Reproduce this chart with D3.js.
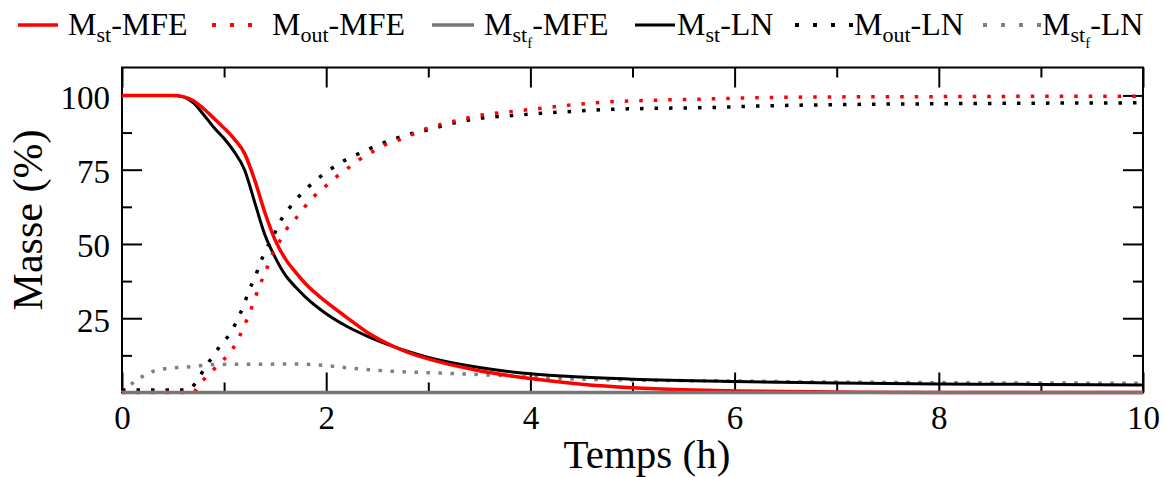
<!DOCTYPE html>
<html><head><meta charset="utf-8">
<script src="https://cdn.jsdelivr.net/npm/d3@7"></script>
<style>html,body{margin:0;padding:0;background:#fff}</style>
</head><body>
<svg id="chart" width="1164" height="477"></svg>
<script>
// ---- data ----
const stMFE_t = [0,0.5,0.6,0.7,0.8,0.9,1.0,1.1,1.2,1.3,1.4,1.5,1.6,1.7,1.8,2.0,2.2,2.4,2.6,2.8,3.0,3.5,4.0,4.5,5.0,5.5,6.0,7.0,8.0,10];
const stMFE_v = [100,100,99.6,98.2,95.5,92.3,89,85.3,80.5,71.5,60.5,51.3,45,40.5,36.5,30.5,25.3,20.3,16.5,13.5,11.3,7.3,4.7,2.8,1.6,0.9,0.5,0.15,0,0];

const outMFE_t = [0,0.7,0.75,0.84,0.95,1.05,1.13,1.19,1.25,1.30,1.35,1.41,1.46,1.53,1.60,1.70,1.87,1.99,2.10,2.22,2.33,2.46,2.59,2.72,2.97,3.25,3.54,3.83,4.11,4.40,4.70,5.14,5.73,6.31,7,8,9,10];
const outMFE_v = [0,0,2.3,5.8,9.5,13.2,17.3,22,26.7,31.5,36.2,41,45.6,50,54.4,58.5,65.7,69.3,72.6,75.7,78.5,81.2,83.6,85.1,88.7,91.3,93.5,94.6,95.7,96.8,97.7,98.3,98.8,99.3,99.5,99.6,99.7,99.7];

const stfMFE_t = [0,10];
const stfMFE_v = [0,0];

const stLN_t = [0,0.5,0.6,0.7,0.8,0.9,1.0,1.1,1.2,1.3,1.4,1.5,1.6,1.7,1.8,2.0,2.2,2.4,2.6,2.8,3.0,3.5,4.0,4.5,5.0,6.0,7.0,8.0,9.0,10];
const stLN_v = [100,100,99.5,97.5,93.5,89.2,85.5,81,75,64,53,45.5,39.5,35.5,32,26.5,22.3,19,16.2,13.8,11.8,8.4,6.3,5.2,4.5,3.7,3.2,2.9,2.7,2.5];

const outLN_t = [0,0.65,0.73,0.80,0.88,0.97,1.06,1.13,1.19,1.24,1.30,1.35,1.41,1.48,1.54,1.62,1.71,1.81,1.92,2.04,2.17,2.30,2.42,2.56,2.69,2.83,2.97,3.25,3.52,3.82,4.11,4.40,4.70,5.14,5.73,6.31,7,8,9,10];
const outLN_v = [0.8,0.8,3.7,7.6,11.7,16.1,19.9,24.5,29.2,34,38.6,43.2,48.1,52.5,57,61.2,65.1,68.7,72,75.1,77.9,80.1,82,84,85.6,87.1,88.2,90.7,92.4,93.2,94,94.6,95.2,95.6,95.9,96.5,96.9,97.2,97.4,97.5];

const stfLN_t = [0,0.11,0.21,0.31,0.42,0.55,0.67,0.9,1.12,1.35,1.58,1.81,2.04,2.27,2.49,2.62,2.97,3.31,3.65,4.0,4.49,4.98,5.47,5.95,6.38,7,8,9,10];
const stfLN_v = [0,3.3,5.6,7.2,8,8.4,8.7,9.4,9.5,9.5,9.6,9.5,8.9,8.1,7.5,7.2,6.7,6.3,5.8,5.2,4.5,4.2,4.0,3.9,3.7,3.5,3.3,3.2,3.1];

const xTicks = [0,2,4,6,8,10];
const xMinor = [1,3,5,7,9];
const yTicks = [25,50,75,100];
const yMinor = [12.5,37.5,62.5,87.5];

const seriesNames = ["st-MFE","out-MFE","stf-MFE","st-LN","out-LN","stf-LN"];

// ---- styles / layout ----
const styles = {
  "st-MFE":  {color:"#ff0000", w:3.5, dash:null},
  "out-MFE": {color:"#ff0000", w:3.5, dash:"3.5,11"},
  "stf-MFE": {color:"#777777", w:3.5, dash:null},
  "st-LN":   {color:"#000000", w:3,   dash:null},
  "out-LN":  {color:"#000000", w:3.5, dash:"3.5,11"},
  "stf-LN":  {color:"#808080", w:3.5, dash:"3.5,8.5"}
};
// legend layout: [symbol x1, symbol x2, text x]
const legendPos = {
  "st-MFE":[18,58,68], "out-MFE":[212,266,272], "stf-MFE":[432,474,484],
  "st-LN":[635,675,677], "out-LN":[795,853,854], "stf-LN":[983,1041,1042]
};
const seriesData = {
  "st-MFE": [stMFE_t, stMFE_v],
  "out-MFE": [outMFE_t, outMFE_v],
  "stf-MFE": [stfMFE_t, stfMFE_v],
  "st-LN": [stLN_t, stLN_v],
  "out-LN": [outLN_t, outLN_v],
  "stf-LN": [stfLN_t, stfLN_v]
};

const svg = d3.select("#chart");
const L = 122, R = 1143, T = 67.5, B = 392.5;
const x = d3.scaleLinear().domain([0,10]).range([L,R]);
const y = d3.scaleLinear().domain([0,109.4]).range([B,T]);
const font = "'Liberation Serif','Times New Roman',serif";

// frame
svg.append("rect").attr("x",L).attr("y",T).attr("width",R-L).attr("height",B-T)
  .attr("fill","none").attr("stroke","#000").attr("stroke-width",2);

function styleAxis(g){ g.select(".domain").remove(); g.selectAll("line").attr("stroke","#000").attr("stroke-width",2); }

// bottom
const gxb = svg.append("g").attr("transform",`translate(0,${B})`)
  .call(d3.axisBottom(x).tickValues(xTicks).tickSize(-20).tickFormat(d3.format("d")));
styleAxis(gxb);
gxb.selectAll("text").attr("y",36).attr("dy",0).attr("font-family",font).attr("font-size",33).attr("fill","#000");
const gxbm = svg.append("g").attr("transform",`translate(0,${B})`)
  .call(d3.axisBottom(x).tickValues(xMinor).tickSize(-10).tickFormat(""));
styleAxis(gxbm);
// top
const gxt = svg.append("g").attr("transform",`translate(0,${T})`)
  .call(d3.axisTop(x).tickValues(xTicks).tickSize(-20).tickFormat(""));
styleAxis(gxt);
const gxtm = svg.append("g").attr("transform",`translate(0,${T})`)
  .call(d3.axisTop(x).tickValues(xMinor).tickSize(-10).tickFormat(""));
styleAxis(gxtm);
// left
const gyl = svg.append("g").attr("transform",`translate(${L},0)`)
  .call(d3.axisLeft(y).tickValues(yTicks).tickSize(-20).tickFormat(d3.format("d")));
styleAxis(gyl);
gyl.selectAll("text").attr("x",-12).attr("dy","0.39em").attr("font-family",font).attr("font-size",33).attr("fill","#000");
const gylm = svg.append("g").attr("transform",`translate(${L},0)`)
  .call(d3.axisLeft(y).tickValues(yMinor).tickSize(-10).tickFormat(""));
styleAxis(gylm);
// right
const gyr = svg.append("g").attr("transform",`translate(${R},0)`)
  .call(d3.axisRight(y).tickValues(yTicks).tickSize(-20).tickFormat(""));
styleAxis(gyr);
const gyrm = svg.append("g").attr("transform",`translate(${R},0)`)
  .call(d3.axisRight(y).tickValues(yMinor).tickSize(-10).tickFormat(""));
styleAxis(gyrm);

// lines
const line = d3.line().x(d=>x(d[0])).y(d=>y(d[1])).curve(d3.curveMonotoneX);
const drawOrder = ["stf-LN","out-LN","st-LN","out-MFE","st-MFE","stf-MFE"];
drawOrder.forEach(n=>{
  const [ts,vs] = seriesData[n];
  const pts = ts.map((t,i)=>[t,vs[i]]);
  const s = styles[n];
  svg.append("path").datum(pts).attr("d",line).attr("fill","none")
    .attr("stroke",s.color).attr("stroke-width",s.w)
    .attr("stroke-dasharray",s.dash).attr("stroke-linecap","butt").attr("stroke-linejoin","round");
});

// axis titles
svg.append("text").attr("x",647).attr("y",468).attr("text-anchor","middle")
  .attr("font-family",font).attr("font-size",41).attr("fill","#000").text("Temps (h)");
svg.append("text").attr("transform","translate(42,220) rotate(-90)").attr("text-anchor","middle")
  .attr("font-family",font).attr("font-size",42).attr("fill","#000").text("Masse (%)");

// legend
const legendSub = {"st-MFE":["st",null,"-MFE"],"out-MFE":["out",null,"-MFE"],"stf-MFE":["st","f","-MFE"],
  "st-LN":["st",null,"-LN"],"out-LN":["out",null,"-LN"],"stf-LN":["st","f","-LN"]};
const ly = 25, lb = 35;
seriesNames.forEach(n=>{
  const s = styles[n];
  const [x1,x2,tx] = legendPos[n];
  svg.append("line").attr("x1",x1).attr("x2",x2).attr("y1",ly).attr("y2",ly)
    .attr("stroke",s.color).attr("stroke-width",s.dash?4:s.w).attr("stroke-dasharray",s.dash?"4,14":null);
  const t = svg.append("text").attr("x",tx).attr("y",lb).attr("font-family",font)
    .attr("font-size",32).attr("fill","#000");
  const [sub,subsub,rest] = legendSub[n];
  t.append("tspan").text("M");
  t.append("tspan").attr("dy",7).attr("font-size",22).text(sub);
  let back = -7;
  if(subsub){ t.append("tspan").attr("dy",6).attr("font-size",15).text(subsub); back = -13; }
  t.append("tspan").attr("dy",back).attr("font-size",32).text(rest);
});
</script>
</body></html>
